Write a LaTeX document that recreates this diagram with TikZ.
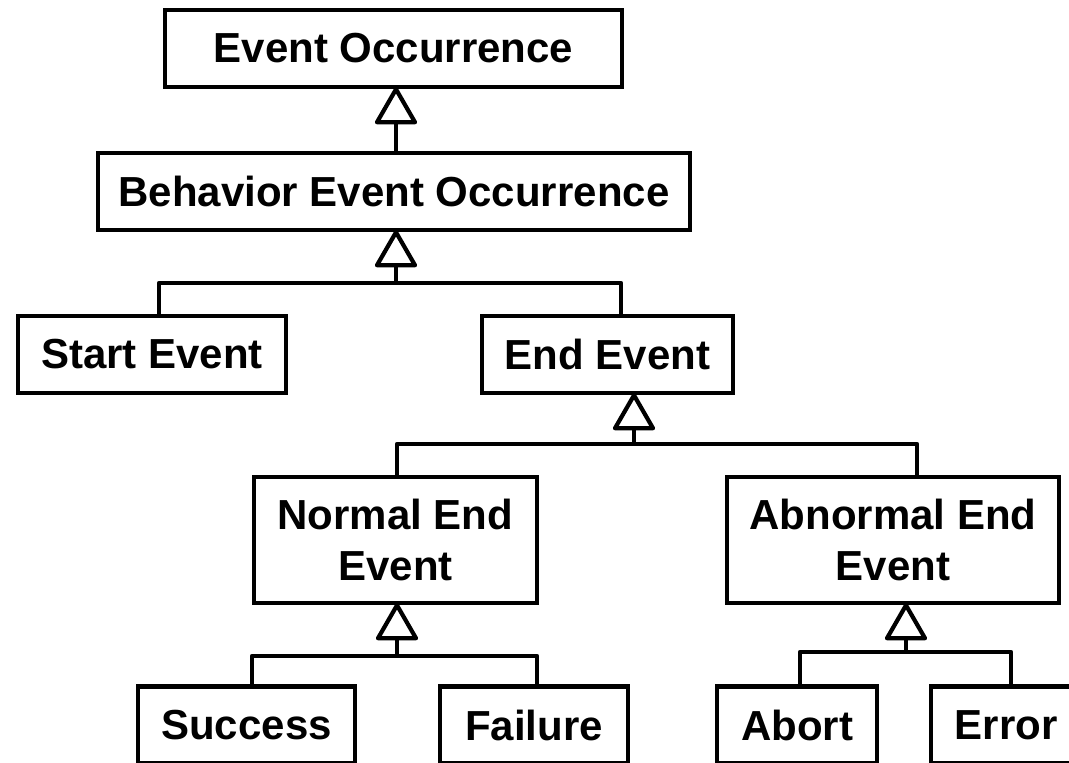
\documentclass[tikz,border=0pt]{standalone}
\usepackage{fontspec}
\setmainfont{Liberation Sans}
\begin{document}
\begin{tikzpicture}[x=1pt,y=-1pt,
  classbox/.style={draw, line width=4.5pt, rectangle, inner sep=0pt,
    align=center, font=\fontsize{42}{51}\selectfont\bfseries},
  link/.style={line width=4.2pt, line join=round},
  gen/.style={line width=4.2pt, line join=round, fill=white}]
\path[use as bounding box, clip] (0,0) rectangle (1069,763);

% class boxes
\node[classbox, minimum width=457pt, minimum height=77pt] (eo)  at (393.5,48.5) {Event Occurrence};
\node[classbox, minimum width=592pt, minimum height=77pt] (beo) at (394,191.5) {Behavior Event Occurrence};
\node[classbox, minimum width=268pt, minimum height=77pt] (start) at (152,354.5) {Start Event};
\node[classbox, minimum width=251pt, minimum height=77pt] (end) at (607.5,354.5) {End Event};
\node[classbox, minimum width=283pt, minimum height=126pt] (normal) at (395.5,540) {Normal End\\Event};
\node[classbox, minimum width=332pt, minimum height=126pt] (abnormal) at (893,540) {Abnormal End\\Event};
\node[classbox, minimum width=217pt, minimum height=77pt] (success) at (246.5,725) {Success};
\node[classbox, minimum width=188pt, minimum height=77pt] (failure) at (534,725) {Failure};
\node[classbox, minimum width=160pt, minimum height=77pt] (abort) at (797,725) {Abort};
\node[classbox, minimum width=150pt, minimum height=77pt] (error) at (1006,725) {Error};

% Behavior Event Occurrence specialises Event Occurrence
\coordinate (k0) at (396,120);
\draw[link] (eo.south -| k0) ++(0,33) -- (beo.north -| k0);
\draw[gen] (eo.south -| k0) -- ++(-19,33) -- ++(38,0) -- cycle;

% Start / End Event specialise Behavior Event Occurrence
\coordinate (k1) at (396,283);
\coordinate (d1a) at (159,283);
\coordinate (d1b) at (621,283);
\draw[link] (beo.south -| k1) ++(0,33) -- (k1);
\draw[link] (start.north -| d1a) -- (d1a) -- (d1b) -- (end.north -| d1b);
\draw[gen] (beo.south -| k1) -- ++(-19,33) -- ++(38,0) -- cycle;

% Normal / Abnormal End Event specialise End Event
\coordinate (k2) at (634,444);
\coordinate (d2a) at (397,444);
\coordinate (d2b) at (917,444);
\draw[link] (end.south -| k2) ++(0,33) -- (k2);
\draw[link] (normal.north -| d2a) -- (d2a) -- (d2b) -- (abnormal.north -| d2b);
\draw[gen] (end.south -| k2) -- ++(-19,33) -- ++(38,0) -- cycle;

% Success / Failure specialise Normal End Event
\coordinate (k3) at (397,656);
\coordinate (d3a) at (252,656);
\coordinate (d3b) at (537,656);
\draw[link] (normal.south -| k3) ++(0,33) -- (k3);
\draw[link] (success.north -| d3a) -- (d3a) -- (d3b) -- (failure.north -| d3b);
\draw[gen] (normal.south -| k3) -- ++(-19,33) -- ++(38,0) -- cycle;

% Abort / Error specialise Abnormal End Event
\coordinate (k4) at (906,652);
\coordinate (d4a) at (800,652);
\coordinate (d4b) at (1011,652);
\draw[link] (abnormal.south -| k4) ++(0,33) -- (k4);
\draw[link] (abort.north -| d4a) -- (d4a) -- (d4b) -- (error.north -| d4b);
\draw[gen] (abnormal.south -| k4) -- ++(-19,33) -- ++(38,0) -- cycle;
\end{tikzpicture}
\end{document}
